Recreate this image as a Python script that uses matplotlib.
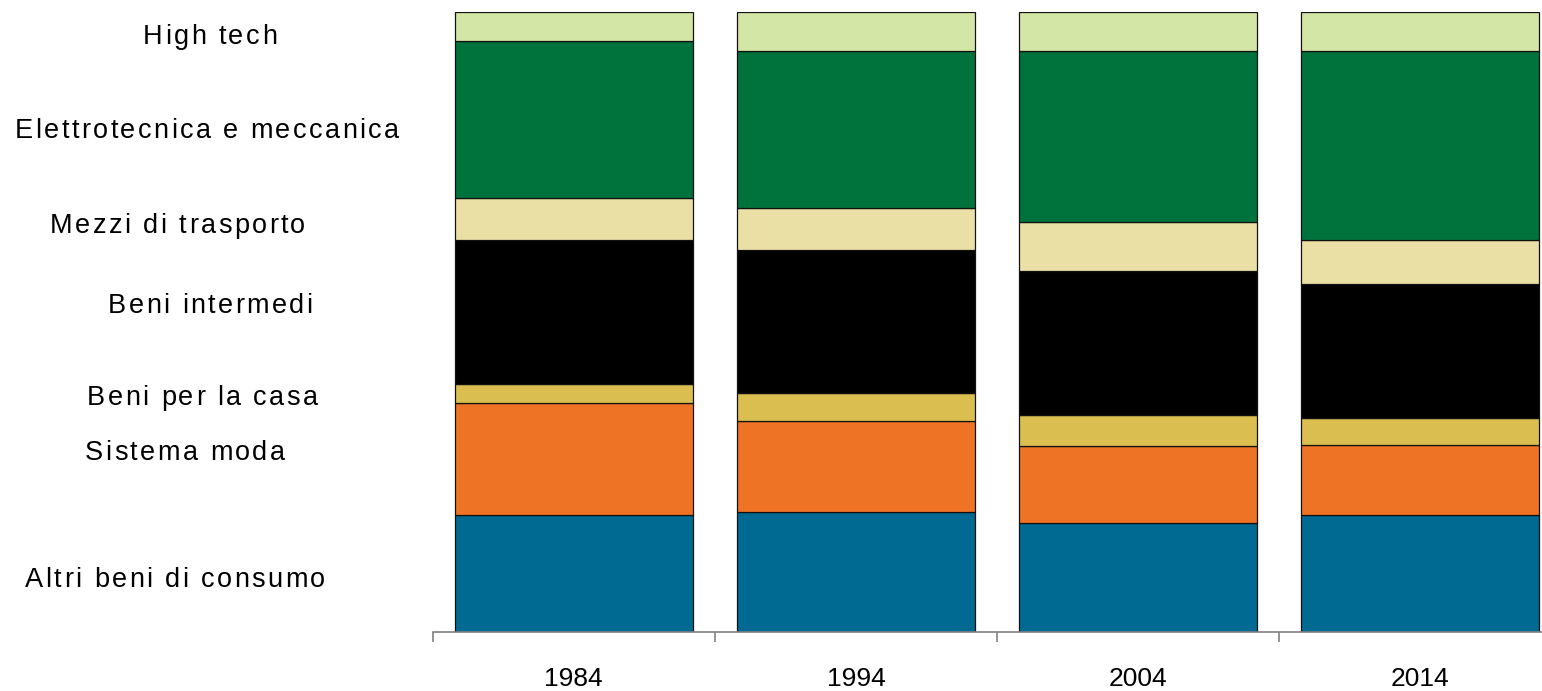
import numpy as np
import matplotlib.pyplot as plt
from matplotlib.font_manager import FontProperties

# Composition of exports by sector (% of total), one stacked bar per year
years = ["1984", "1994", "2004", "2014"]

sectors = [
    "Altri beni di consumo",
    "Sistema moda",
    "Beni per la casa",
    "Beni intermedi",
    "Mezzi di trasporto",
    "Elettrotecnica e meccanica",
    "High tech",
]

altri_beni = [18.8, 19.3, 17.6, 18.8]
sistema_moda = [18.1, 14.7, 12.4, 11.3]
beni_casa = [3.2, 4.5, 5.0, 4.4]
beni_intermedi = [23.2, 23.2, 23.3, 21.6]
mezzi_trasporto = [6.8, 6.7, 7.8, 7.2]
elettro_meccanica = [25.3, 25.4, 27.7, 30.5]
high_tech = [4.6, 6.2, 6.2, 6.2]

series = [altri_beni, sistema_moda, beni_casa, beni_intermedi,
          mezzi_trasporto, elettro_meccanica, high_tech]

colors = ["#006A93", "#EF7324", "#DBBE50", "#000000",
          "#EAE0A6", "#00723B", "#D4E6A6"]

# where the sector names sit on the left (pixels: left edge, baseline)
label_pos = [(25, 587), (85, 460), (87, 405), (108, 313),
             (50, 233), (15, 138), (143, 44)]

W, H = 1542, 691
plt.rcParams["font.family"] = ["Liberation Sans", "DejaVu Sans"]

fig = plt.figure(figsize=(W / 100, H / 100), dpi=100)
ax = fig.add_axes([432.7 / W, 59 / H, (W - 432.7) / W, (632 - 12.3) / H])

x = np.arange(len(years))
bottom = np.zeros(len(years))
for values, color in zip(series, colors):
    ax.bar(x, values, width=0.843, bottom=bottom, color=color,
           edgecolor="#111111", linewidth=0.9)
    bottom += np.array(values)

ax.set_xlim(-0.5, -0.5 + (W - 432.7) / 282.2)
ax.set_ylim(0, 100)


def spaced_text(fig, px, py, s, prop, tracking):
    """Write s letter by letter with extra spacing (in pixels) between letters."""
    renderer = fig.canvas.get_renderer()
    cursor = px
    for ch in s:
        fig.text(cursor / W, 1 - py / H, ch, ha="left", va="baseline",
                 fontproperties=prop, color="black")
        w, _, _ = renderer.get_text_width_height_descent(ch, prop, ismath=False)
        cursor += w + tracking


# sector names to the left of the bars
label_font = FontProperties(family="Liberation Sans", size=19.5)
for name, (px, py) in zip(sectors, label_pos):
    spaced_text(fig, px, py, name, label_font, 2.4)

# axis styling: only the baseline, with separators between the years
for side in ["left", "right", "top"]:
    ax.spines[side].set_visible(False)
ax.spines["bottom"].set_color("#808080")
ax.spines["bottom"].set_linewidth(1.2)

ax.set_yticks([])
ax.set_xticks(x)
ax.set_xticklabels(years, fontsize=19)
ax.tick_params(axis="x", which="major", length=0, pad=25)
ax.set_xticks(np.arange(len(years)) - 0.5, minor=True)
ax.tick_params(axis="x", which="minor", direction="out", length=7.5,
               width=1.2, color="#808080")

fig.savefig("out.png", dpi=100)
